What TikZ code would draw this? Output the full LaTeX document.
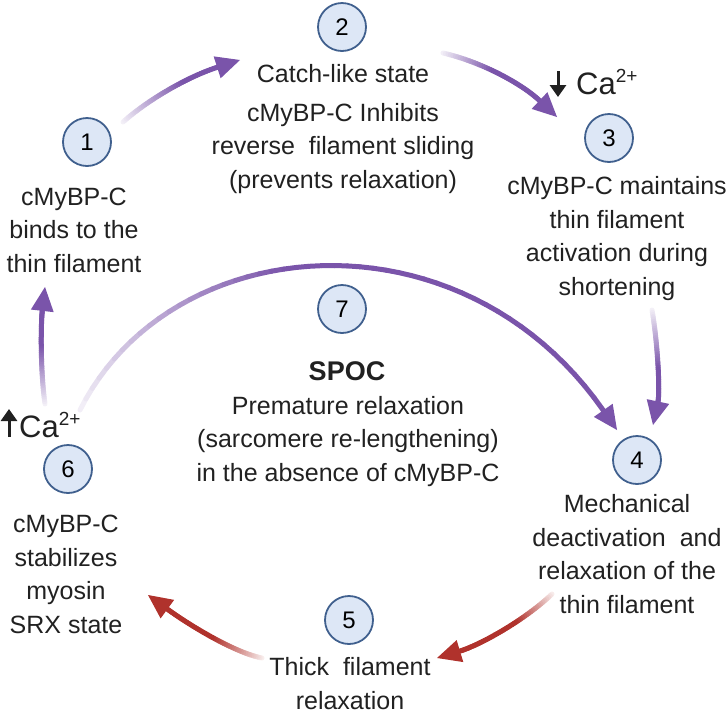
\documentclass[tikz,border=0pt]{standalone}
\usepackage{fontspec}
\setmainfont{Liberation Sans}
\usetikzlibrary{calc,arrows.meta}
\definecolor{purp}{RGB}{122,84,170}
\definecolor{redd}{RGB}{176,50,44}
\definecolor{circfill}{RGB}{221,231,246}
\definecolor{circdraw}{RGB}{64,96,142}
\definecolor{txt}{RGB}{33,33,33}
\newcommand{\fadearrow}[6]{%
  \coordinate (fS) at #1; \coordinate (fA) at #2; \coordinate (fB) at #3; \coordinate (fT) at #4;
  \coordinate (fE) at ($(fT)!24pt!(fB)$);
  \foreach \i in {0,...,47} {
    \pgfmathsetmacro{\ta}{\i/48}
    \pgfmathsetmacro{\tb}{(\i+1)/48}
    \pgfmathtruncatemacro{\mix}{min(100, 6+94*\tb/#6)}
    \path (fS) .. controls (fA) and (fB) .. (fE) coordinate[pos=\ta] (pa) coordinate[pos=\tb] (pb);
    \draw[#5!\mix!white, line width=5pt, line cap=round] (pa) -- (pb);
  }
  \fill[#5] (fT) -- ($(fE)!11.5pt!90:(fT)$) -- ($(fE)!11.5pt!-90:(fT)$) -- cycle;
}
\begin{document}
\begin{tikzpicture}[x=1pt,y=-1pt,
  num/.style={circle, draw=circdraw, fill=circfill, line width=1.8pt, minimum size=48pt, inner sep=0pt, font=\fontsize{24}{24}\selectfont, text=black},
  lbl/.style={align=center, font=\fontsize{25}{33.5}\selectfont, text=txt, inner sep=0pt, anchor=base},
  calbl/.style={anchor=base west, inner sep=0pt, font=\fontsize{31}{31}\selectfont, text=txt},
  caarrow/.style={-{Triangle[length=12pt,width=16pt]}, line width=3pt, txt}]
\useasboundingbox (0,0) rectangle (728,713);

% arrows
\fadearrow{(123,122)}{(150,98)}{(190,76)}{(240,60)}{purp}{0.65}
\fadearrow{(443,53)}{(482,62)}{(522,84)}{(557,117)}{purp}{0.45}
\fadearrow{(652,310)}{(658,345)}{(660,392)}{(653,425)}{purp}{0.55}
\fadearrow{(80,410)}{(170,230)}{(460,205)}{(617,430)}{purp}{0.45}
\fadearrow{(552,594)}{(525,620)}{(480,645)}{(437,658)}{redd}{0.4}
\fadearrow{(262,658)}{(232,652)}{(185,622)}{(148,595)}{redd}{0.5}
\fadearrow{(45,404)}{(40,368)}{(41,322)}{(45,287)}{purp}{0.55}

% circles
\node[num] (c1) at (87,142) {1};
\node[num] (c2) at (342,27) {2};
\node[num] (c3) at (609,138) {3};
\node[num] (c4) at (637,460) {4};
\node[num] (c5) at (349,620) {5};
\node[num] (c6) at (68,469) {6};
\node[num] (c7) at (342,309) {7};

% texts (anchor base = baseline of last line)
\node[lbl] (t1) at (74,272) {cMyBP-C\\binds to the\\thin filament};
\node[lbl] (t2) at (343,188) {Catch-like state\\[5pt]cMyBP-C Inhibits\\reverse\ \ filament sliding\\(prevents relaxation)};
\node[lbl] (t3) at (617,295) {cMyBP-C maintains\\thin filament\\activation during\\shortening};
\node[lbl] (t4) at (627,613) {Mechanical\\deactivation\ \ and\\relaxation of the\\thin filament};
\node[lbl] (t5) at (350,709) {Thick\ \ filament\\relaxation};
\node[lbl] (t6) at (66,633) {cMyBP-C\\stabilizes\\myosin\\SRX state};
\node[lbl, font=\fontsize{27}{27}\selectfont\bfseries] (spoc) at (347,380) {SPOC};
\node[lbl] (t7) at (348,481) {Premature relaxation\\(sarcomere re-lengthening)\\in the absence of cMyBP-C};

% calcium labels
\coordinate (caTa) at (558,71);
\coordinate (caTb) at (558,97);
\draw[caarrow] (caTa) -- (caTb);
\node[calbl] (caT) at (576,94) {Ca\raisebox{12pt}{\fontsize{19}{19}\selectfont 2+}};
\coordinate (caLa) at (9,437);
\coordinate (caLb) at (9,409);
\draw[caarrow] (caLa) -- (caLb);
\node[calbl] (caL) at (19,437) {Ca\raisebox{12pt}{\fontsize{19}{19}\selectfont 2+}};
\end{tikzpicture}
\end{document}
